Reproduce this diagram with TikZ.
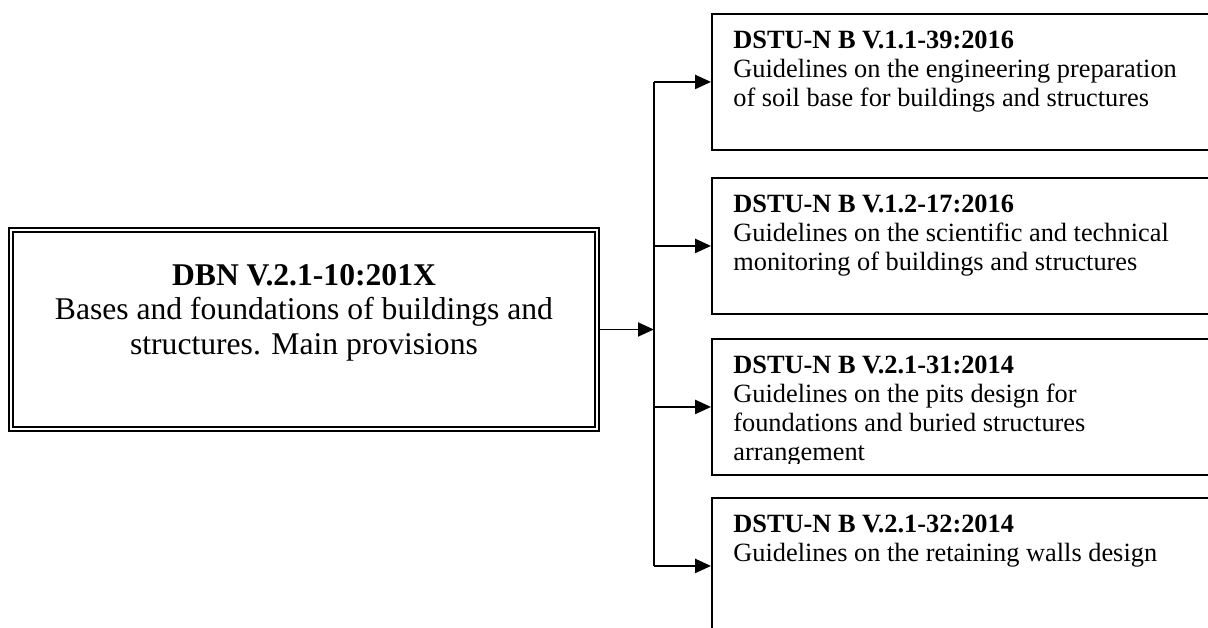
\documentclass[tikz,border=0pt]{standalone}
\usepackage{fontspec}
\setmainfont{Liberation Serif}
\usetikzlibrary{arrows.meta,positioning}

\tikzset{
  mainbox/.style={draw, double, line width=1pt, double distance=1.5pt,
    minimum width=11.72cm, minimum height=3.98cm, inner sep=0pt},
  maintext/.style={align=center, inner sep=0pt, font=\fontsize{18}{19.5}\selectfont},
  docbox/.style={draw, line width=1.1pt, minimum width=11.2cm,
    minimum height=2.72cm, inner sep=0pt, anchor=north west},
  doctext/.style={align=left, inner sep=0pt, font=\fontsize{15}{16.5}\selectfont},
  link/.style={line width=1pt, -{Triangle[length=9pt,width=8pt]}},
  wire/.style={line width=1pt}
}

\begin{document}
\begin{tikzpicture}[x=0.02cm,y=-0.02cm]
                    \useasboundingbox (0,0) rectangle (1208,628);
                    \clip (0,0) rectangle (1208,628);

                    % Drawing main box DBN
                    \node[mainbox] (dbn) at (304,329.5) {};
                    \node[maintext, below=0.7cm of dbn.north] (dbnText)
                      {\textbf{DBN V.2.1-10:201X}\\
                       Bases and foundations of buildings and\\
                       structures. Main provisions};

                    % Drawing boxes DSTU-N
                    \node[docbox] (dstuA) at (711,13) {};
                    \node[docbox] (dstuB) at (711,177) {};
                    \node[docbox] (dstuC) at (711,338) {};
                    \node[docbox] (dstuD) at (711,497) {};

                    % Writing texts of boxes
                    \node[doctext, below right=0.36cm and 0.44cm of dstuA.north west] (dstuAText)
                      {\textbf{DSTU-N B V.1.1-39:2016}\\
                       Guidelines on the engineering preparation\\
                       of soil base for buildings and structures};
                    \node[doctext, below right=0.36cm and 0.44cm of dstuB.north west] (dstuBText)
                      {\textbf{DSTU-N B V.1.2-17:2016}\\
                       Guidelines on the scientific and technical\\
                       monitoring of buildings and structures};
                    \begin{scope}
                    \clip (dstuC.north west) rectangle ([yshift=0.24cm]dstuC.south east);
                    \node[doctext, below right=0.36cm and 0.44cm of dstuC.north west] (dstuCText)
                      {\textbf{DSTU-N B V.2.1-31:2014}\\
                       Guidelines on the pits design for\\
                       foundations and buried structures\\
                       arrangement};
                    \end{scope}
                    \node[doctext, below right=0.36cm and 0.44cm of dstuD.north west] (dstuDText)
                      {\textbf{DSTU-N B V.2.1-32:2014}\\
                       Guidelines on the retaining walls design};

                    % Drawing arrow to the hub line
                    \coordinate[right=1.12cm of dbn.east] (hub);
                    \draw[link] (dbn.east) -- (hub);

                    % Drawing hub line
                    \draw[wire] (hub |- dstuA.west) -- (hub |- dstuD.west);

                    % Drawing arrows to boxes
                    \draw[link] (hub |- dstuA.west) -- (dstuA.west);
                    \draw[link] (hub |- dstuB.west) -- (dstuB.west);
                    \draw[link] (hub |- dstuC.west) -- (dstuC.west);
                    \draw[link] (hub |- dstuD.west) -- (dstuD.west);
\end{tikzpicture}
\end{document}
